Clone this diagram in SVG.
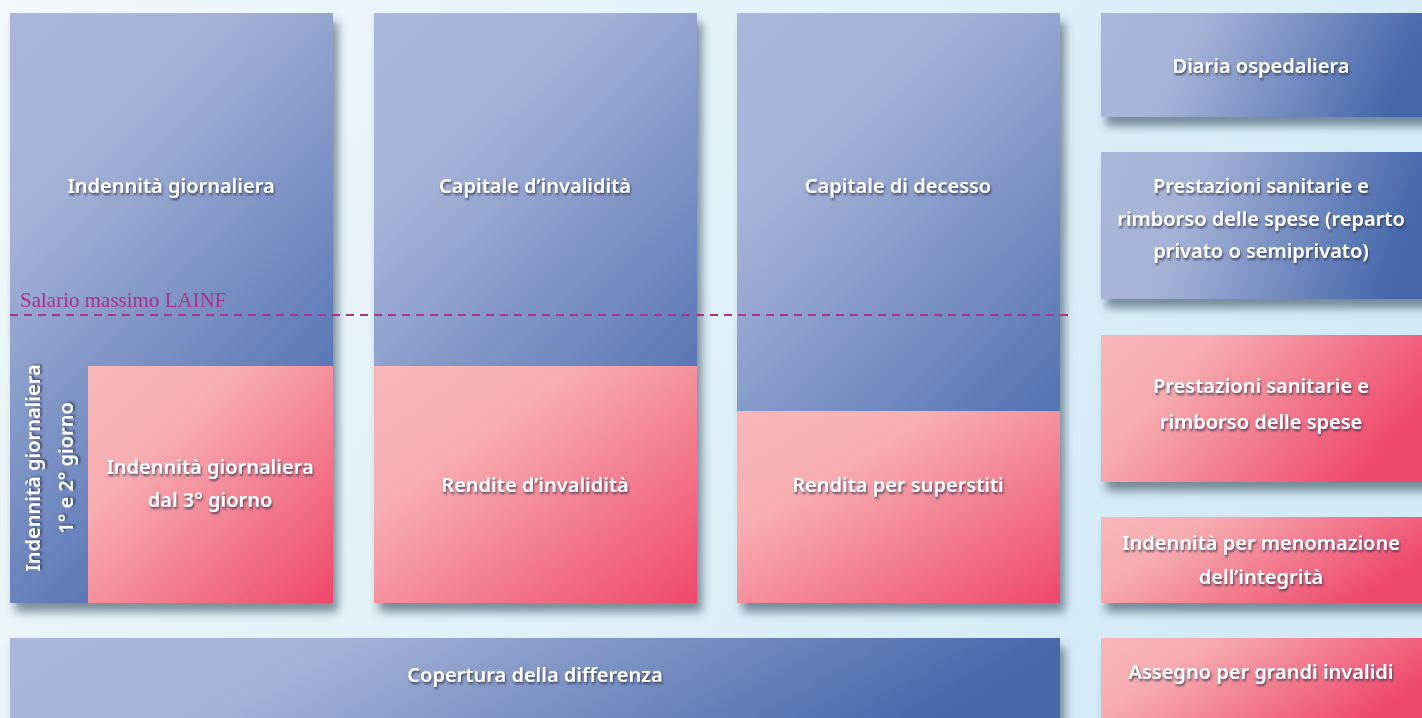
<svg xmlns="http://www.w3.org/2000/svg" width="1422" height="718" viewBox="0 0 1422 718">
<defs>
<linearGradient id="bg" x1="0" y1="0" x2="1" y2="0.3">
<stop offset="0" stop-color="#f2f8fb"/><stop offset="1" stop-color="#d3ebf6"/>
</linearGradient>
<linearGradient id="b1" gradientUnits="userSpaceOnUse" x1="10" y1="13" x2="360" y2="363">
<stop offset="0" stop-color="#aab6da"/><stop offset="0.3" stop-color="#a6b3d8"/><stop offset="1" stop-color="#5574b3"/>
</linearGradient>
<linearGradient id="b2" href="#b1" gradientUnits="userSpaceOnUse" x1="374" y1="13" x2="724" y2="363"/>
<linearGradient id="b3" href="#b1" gradientUnits="userSpaceOnUse" x1="737" y1="13" x2="1087" y2="363"/>
<linearGradient id="blueW" x1="0" y1="0" x2="1" y2="0.15">
<stop offset="0" stop-color="#aab6da"/><stop offset="0.3" stop-color="#a6b3d8"/><stop offset="1" stop-color="#4467aa"/>
</linearGradient>
<linearGradient id="pink" x1="0" y1="0" x2="1" y2="1">
<stop offset="0" stop-color="#f8b7b8"/><stop offset="0.3" stop-color="#f7aeb1"/><stop offset="1" stop-color="#ee476b"/>
</linearGradient>
<linearGradient id="pinkW" x1="0" y1="0" x2="1" y2="0.4">
<stop offset="0" stop-color="#f8b7b8"/><stop offset="0.3" stop-color="#f6abaf"/><stop offset="1" stop-color="#ee4a6c"/>
</linearGradient>
<filter id="sh" x="-10%" y="-10%" width="130%" height="130%">
<feDropShadow dx="5" dy="9" stdDeviation="5" flood-color="#34495a" flood-opacity="0.6"/>
</filter>
<filter id="ts" x="-10%" y="-30%" width="120%" height="160%">
<feDropShadow dx="1" dy="2" stdDeviation="1" flood-color="#2a2a40" flood-opacity="0.75"/>
</filter>
<style>
.t{font-family:"Noto Sans","Open Sans",sans-serif;font-size:20px;fill:#ffffff;text-anchor:middle;filter:url(#ts);font-weight:600}
.s{font-family:"Liberation Serif","DejaVu Serif",serif;font-size:21px;fill:#a8348c}
</style>
</defs>
<rect x="0" y="0" width="1422" height="718" fill="url(#bg)"/>

<g id="col1" filter="url(#sh)">
<rect x="10" y="13" width="323" height="590" fill="url(#b1)"/>
<rect x="88" y="366" width="245" height="237" fill="url(#pink)"/>
</g>
<g id="indennita-giornaliera"><text class="t" x="171" y="193">Indennità giornaliera</text></g>
<g id="indennita-1-2"><text class="t" transform="translate(40,468) rotate(-90)">Indennità giornaliera</text><text class="t" transform="translate(73,468) rotate(-90)">1° e 2° giorno</text></g>
<g id="indennita-3"><text class="t" x="210" y="474">Indennità giornaliera</text><text class="t" x="210" y="507">dal 3° giorno</text></g>

<g id="col2" filter="url(#sh)">
<rect x="374" y="13" width="323" height="590" fill="url(#b2)"/>
<rect x="374" y="366" width="323" height="237" fill="url(#pink)"/>
</g>
<g id="capitale-invalidita"><text class="t" x="535" y="193">Capitale d’invalidità</text></g>
<g id="rendite-invalidita"><text class="t" x="535" y="492">Rendite d’invalidità</text></g>

<g id="col3" filter="url(#sh)">
<rect x="737" y="13" width="323" height="590" fill="url(#b3)"/>
<rect x="737" y="411" width="323" height="192" fill="url(#pink)"/>
</g>
<g id="capitale-decesso"><text class="t" x="898" y="193">Capitale di decesso</text></g>
<g id="rendita-superstiti"><text class="t" x="898" y="492">Rendita per superstiti</text></g>

<g id="copertura">
<rect x="10" y="638" width="1050" height="90" fill="url(#blueW)" filter="url(#sh)"/>
<text class="t" x="535" y="682">Copertura della differenza</text>
</g>

<g id="diaria">
<rect x="1101" y="13" width="330" height="104" fill="url(#blueW)" filter="url(#sh)"/>
<text class="t" x="1261" y="73">Diaria ospedaliera</text>
</g>
<g id="prestazioni-privato">
<rect x="1101" y="152" width="330" height="147" fill="url(#blueW)" filter="url(#sh)"/>
<text class="t" x="1261" y="193">Prestazioni sanitarie e</text>
<text class="t" x="1261" y="226">rimborso delle spese (reparto</text>
<text class="t" x="1261" y="258">privato o semiprivato)</text>
</g>
<g id="prestazioni">
<rect x="1101" y="335" width="330" height="147" fill="url(#pinkW)" filter="url(#sh)"/>
<text class="t" x="1261" y="393">Prestazioni sanitarie e</text>
<text class="t" x="1261" y="429">rimborso delle spese</text>
</g>
<g id="menomazione">
<rect x="1101" y="517" width="330" height="86" fill="url(#pinkW)" filter="url(#sh)"/>
<text class="t" x="1261" y="550">Indennità per menomazione</text>
<text class="t" x="1261" y="584">dell’integrità</text>
</g>
<g id="assegno">
<rect x="1101" y="638" width="330" height="90" fill="url(#pinkW)" filter="url(#sh)"/>
<text class="t" x="1261" y="679">Assegno per grandi invalidi</text>
</g>

<g id="connectors">
<line x1="10" y1="315" x2="1070" y2="315" stroke="#a8348c" stroke-width="2" stroke-dasharray="8,6"/>
<text class="s" x="20" y="307">Salario massimo LAINF</text>
</g>
</svg>
